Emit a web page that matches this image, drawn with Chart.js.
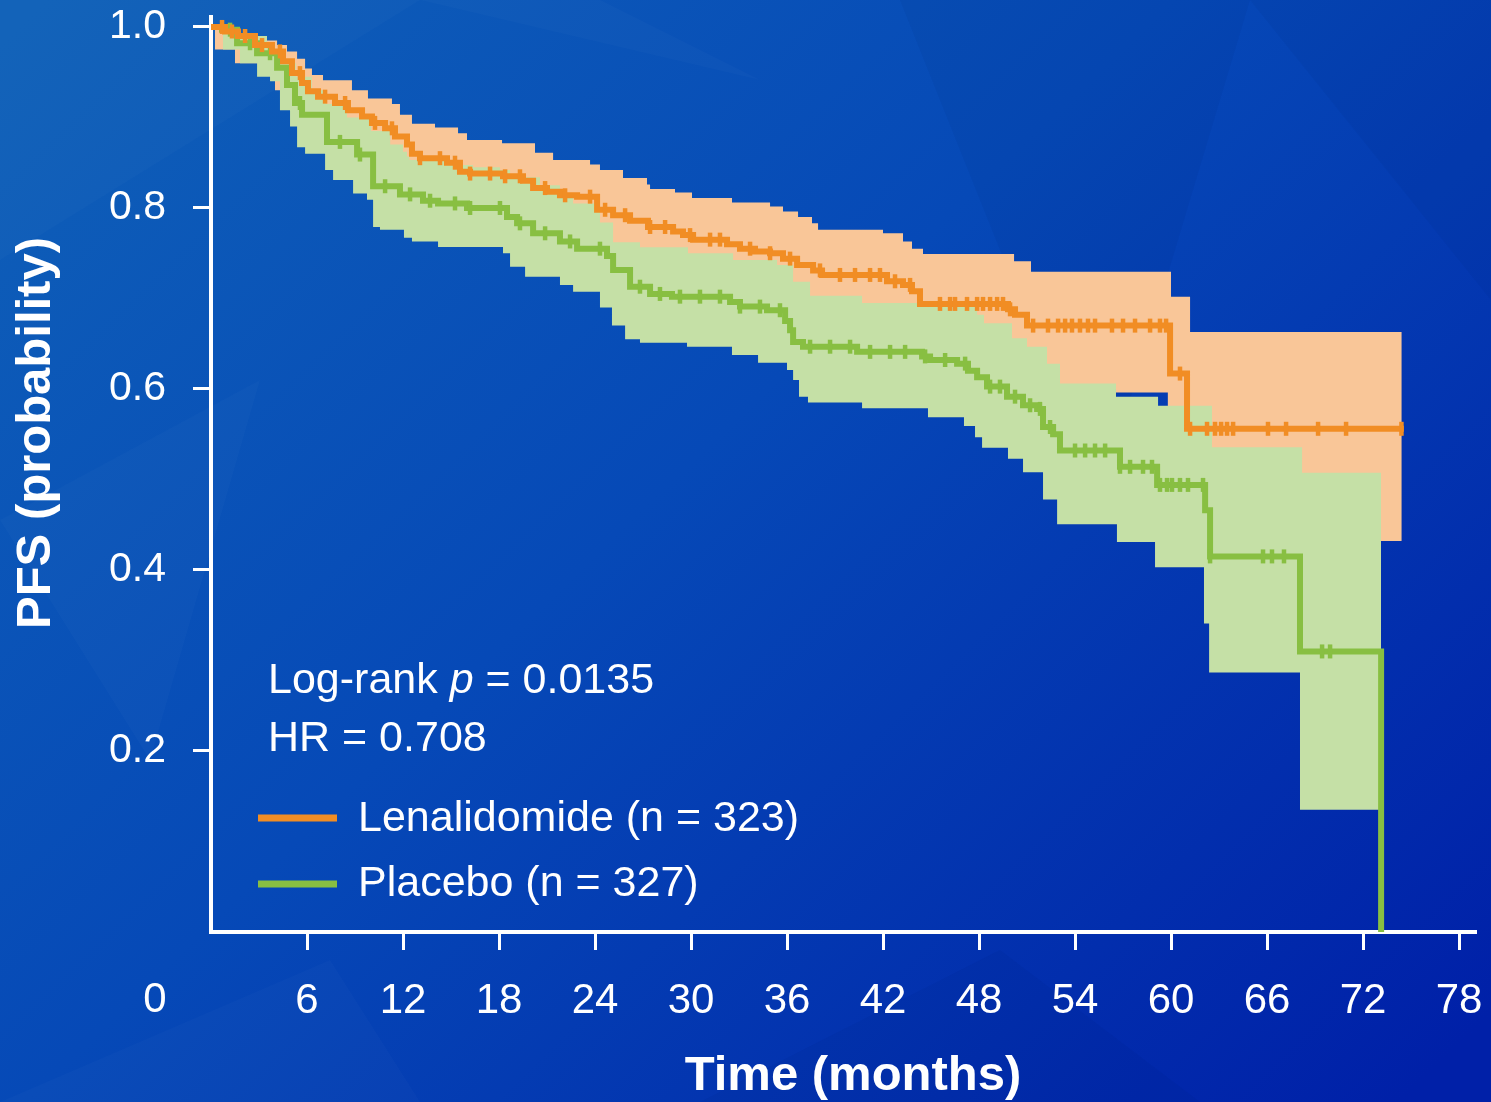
<!DOCTYPE html>
<html>
<head>
<meta charset="utf-8">
<script src="https://cdn.jsdelivr.net/npm/chart.js@4.4.0/dist/chart.umd.min.js"></script>
<style>
html,body{margin:0;padding:0;background:#0a48b4;overflow:hidden}
canvas{display:block}
</style>
</head>
<body>
<canvas id="c" width="1491" height="1102"></canvas>
<script>
// ---------- DATA (time in months, survival probability) ----------
const xTickValues = [0, 6, 12, 18, 24, 30, 36, 42, 48, 54, 60, 66, 72, 78];
const yTickValues = [0.2, 0.4, 0.6, 0.8, 1.0];

const seriesNames = ['Lenalidomide (n = 323)', 'Placebo (n = 327)'];
const statText = ['Log-rank ', 'p', ' = 0.0135'];
const hrText = 'HR = 0.708';

// Lenalidomide KM estimate
const lenaT = [0, 0.88, 1.69, 2.75, 3.81, 4.5, 5.06, 5.69, 6.06, 6.69, 7.75, 8.56, 9.44, 10.06, 10.88, 11.5, 12.25, 12.56, 13.06, 14.75, 15.56, 16.19, 18.25, 19.5, 20.13, 21.0, 21.81, 22.88, 24.13, 25.13, 26.19, 27.31, 28.88, 29.5, 30.13, 32.25, 33.06, 34.0, 34.94, 35.75, 36.63, 37.63, 38.19, 42.25, 43.25, 43.81, 44.31, 49.81, 50.25, 51.0, 59.94, 61.0, 74.55];
const lenaS = [1.0, 0.995, 0.99, 0.98, 0.973, 0.962, 0.949, 0.938, 0.929, 0.923, 0.916, 0.908, 0.901, 0.894, 0.888, 0.879, 0.87, 0.86, 0.855, 0.85, 0.84, 0.838, 0.835, 0.83, 0.822, 0.818, 0.814, 0.8125, 0.798, 0.792, 0.786, 0.779, 0.774, 0.77, 0.765, 0.76, 0.755, 0.752, 0.75, 0.744, 0.737, 0.731, 0.726, 0.719, 0.715, 0.708, 0.694, 0.688, 0.682, 0.67, 0.617, 0.556, 0.556];
// Lenalidomide 95% CI
const lenaUpT = [0, 1.69, 3.38, 4.13, 4.75, 5.38, 5.88, 6.31, 7.0, 8.81, 9.81, 11.31, 11.81, 12.56, 14.0, 15.44, 16.0, 18.19, 20.25, 21.38, 23.69, 24.31, 25.75, 27.25, 27.44, 29.0, 30.06, 32.56, 34.94, 35.75, 36.69, 37.56, 37.94, 42.0, 43.25, 43.81, 44.5, 50.19, 51.25, 60.0, 61.19, 74.42];
const lenaUpS = [1.0, 0.989, 0.985, 0.98, 0.973, 0.965, 0.954, 0.947, 0.941, 0.93, 0.921, 0.915, 0.903, 0.893, 0.889, 0.8825, 0.875, 0.8714, 0.861, 0.853, 0.848, 0.842, 0.833, 0.826, 0.821, 0.817, 0.811, 0.806, 0.8015, 0.796, 0.79, 0.783, 0.776, 0.772, 0.763, 0.755, 0.749, 0.741, 0.7296, 0.702, 0.663, 0.663];
const lenaLoT = [0, 0.25, 1.5, 4.0, 6.0, 9.0, 12.0, 16.0, 20.0, 24.0, 27.0, 30.0, 35.0, 37.0, 42.0, 44.0, 48.0, 52.0, 56.56, 59.8, 74.42];
const lenaLoS = [1.0, 0.975, 0.96, 0.93, 0.89, 0.86, 0.83, 0.8, 0.78, 0.75, 0.73, 0.72, 0.7, 0.68, 0.66, 0.64, 0.63, 0.6, 0.596, 0.432, 0.432];

// Placebo KM estimate
const placT = [0, 0.69, 1.63, 2.88, 4.13, 4.75, 5.25, 5.69, 7.25, 9.13, 10.13, 11.81, 13.25, 14.19, 16.0, 18.5, 19.13, 20.13, 21.81, 22.88, 24.75, 25.13, 26.19, 27.44, 28.81, 32.44, 33.06, 34.75, 35.88, 36.19, 36.38, 37.0, 40.38, 44.44, 44.94, 46.63, 47.31, 47.88, 48.5, 49.75, 50.75, 51.63, 52.0, 52.63, 53.06, 56.81, 59.13, 62.13, 62.44, 68.06, 73.13];
const placS = [1.0, 0.997, 0.982, 0.971, 0.955, 0.936, 0.916, 0.903, 0.873, 0.859, 0.824, 0.815, 0.808, 0.805, 0.8, 0.79, 0.783, 0.772, 0.763, 0.755, 0.747, 0.7315, 0.713, 0.705, 0.702, 0.696, 0.691, 0.687, 0.675, 0.665, 0.652, 0.6467, 0.641, 0.636, 0.632, 0.628, 0.62, 0.613, 0.6026, 0.5915, 0.582, 0.578, 0.558, 0.55, 0.532, 0.514, 0.494, 0.466, 0.415, 0.31, 0.0];
// Placebo 95% CI
const placUpT = [0, 1.5, 3.5, 4.5, 5.3, 6.3, 7.2, 8.5, 10.0, 11.2, 12.0, 12.25, 12.4, 14.94, 16.38, 18.06, 18.69, 20.56, 21.81, 22.63, 24.31, 25.13, 26.81, 29.81, 32.63, 35.38, 36.38, 37.44, 40.69, 47.88, 48.31, 50.06, 51.0, 52.25, 53.06, 56.56, 59.19, 62.56, 68.19, 73.13];
const placUpS = [1.0, 0.99, 0.975, 0.96, 0.945, 0.93, 0.915, 0.9, 0.885, 0.87, 0.862, 0.857, 0.853, 0.8475, 0.845, 0.842, 0.834, 0.825, 0.8125, 0.805, 0.784, 0.762, 0.7565, 0.75, 0.7425, 0.737, 0.7186, 0.703, 0.695, 0.682, 0.6726, 0.656, 0.6467, 0.628, 0.606, 0.5915, 0.5816, 0.5356, 0.5075, 0.5075];
const placLoT = [0, 0.75, 1.81, 2.88, 3.69, 4.31, 4.94, 5.38, 5.88, 7.13, 7.63, 8.88, 9.75, 10.13, 10.56, 12.06, 12.56, 14.19, 18.25, 18.69, 19.63, 21.81, 22.63, 24.31, 25.06, 25.88, 26.81, 29.75, 32.56, 34.19, 36.0, 36.38, 36.75, 37.31, 40.69, 44.81, 47.06, 47.75, 48.19, 49.81, 50.75, 52.0, 52.88, 56.62, 59.0, 62.06, 62.38, 68.06, 73.13];
const placLoS = [1.0, 0.975, 0.96, 0.945, 0.94, 0.908, 0.89, 0.867, 0.86, 0.842, 0.831, 0.816, 0.809, 0.779, 0.776, 0.767, 0.763, 0.757, 0.75, 0.735, 0.724, 0.715, 0.7075, 0.69, 0.67, 0.655, 0.651, 0.6467, 0.6376, 0.629, 0.621, 0.61, 0.5915, 0.585, 0.5786, 0.5687, 0.559, 0.5466, 0.535, 0.523, 0.508, 0.478, 0.4505, 0.431, 0.403, 0.341, 0.2867, 0.135, 0.135];

// Censoring times
const lenaCensor = [0.69, 1.31, 2.13, 3.19, 4.31, 5.56, 7.13, 8.38, 10.25, 11.31, 13.06, 14.31, 15.25, 16.19, 17.44, 18.38, 19.31, 20.88, 22.13, 23.69, 24.63, 25.88, 27.44, 28.38, 29.94, 31.19, 31.81, 33.69, 34.94, 36.19, 38.06, 39.31, 40.25, 41.19, 41.81, 42.75, 43.69, 45.56, 46.19, 46.5, 47.25, 47.88, 48.25, 48.69, 49.13, 49.5, 49.94, 51.38, 52.31, 52.94, 53.38, 53.81, 54.31, 54.81, 55.25, 56.31, 57.0, 57.75, 58.69, 59.31, 59.69, 60.56, 61.19, 62.25, 62.75, 63.13, 63.5, 63.88, 66.06, 67.19, 69.19, 70.94, 74.4];
const placCensor = [1.19, 2.44, 3.69, 5.56, 8.06, 9.31, 10.88, 12.44, 13.69, 15.25, 16.19, 18.06, 19.31, 20.88, 22.44, 24.31, 26.81, 28.06, 29.31, 30.56, 31.81, 33.06, 34.31, 35.56, 37.44, 38.69, 39.94, 41.19, 42.44, 43.38, 44.63, 45.88, 47.13, 48.69, 49.31, 50.25, 51.19, 51.81, 52.44, 54.0, 54.63, 55.25, 55.88, 56.81, 57.44, 58.25, 58.81, 59.31, 59.75, 60.06, 60.56, 61.06, 62.0, 62.44, 65.75, 66.31, 67.06, 69.44, 69.94];

// ---------- STYLE ----------
const ORANGE = '#F18D24';
const PEACH = '#F9C698';
const GREEN = '#88BF42';
const LIGHTGREEN = '#C5E0A6';
const FONT = '"Liberation Sans", Arial, Helvetica, sans-serif';

// ---------- helpers (build tables for the library) ----------
function stepAt(ts, ss, t) {
  let v = ss[0];
  for (let i = 0; i < ts.length; i++) { if (ts[i] <= t + 1e-9) v = ss[i]; else break; }
  return v;
}
function toPts(ts, ss) { return ts.map((t, i) => ({ x: t, y: ss[i] })); }
function band(tA, sA, tB, sB) {
  const end = Math.min(tA[tA.length - 1], tB[tB.length - 1]);
  const all = Array.from(new Set([...tA, ...tB])).filter(t => t <= end + 1e-9).sort((a, b) => a - b);
  return {
    up: all.map(t => ({ x: t, y: stepAt(tA, sA, t) })),
    lo: all.map(t => ({ x: t, y: stepAt(tB, sB, t) }))
  };
}
const lenaBand = band(lenaUpT, lenaUpS, lenaLoT, lenaLoS);
const placBand = band(placUpT, placUpS, placLoT, placLoS);

const bgPlugin = {
  id: 'bg',
  beforeDraw(chart) {
    const c = chart.ctx, W = chart.width, H = chart.height;
    c.save();
    const g = c.createLinearGradient(150, -100, 1350, 1150);
    g.addColorStop(0, '#0f60b8');
    g.addColorStop(0.45, '#0649b7');
    g.addColorStop(1, '#0020a8');
    c.fillStyle = g;
    c.fillRect(0, 0, W, H);
    c.fillStyle = 'rgba(255,255,255,0.018)';
    const polys = [
      [[0,0],[420,0],[0,260]],
      [[420,0],[760,80],[600,0]],
      [[0,520],[260,380],[150,760]],
      [[0,1102],[330,960],[420,1102]]
    ];
    polys.forEach(p => { c.beginPath(); c.moveTo(p[0][0], p[0][1]); for (let i = 1; i < p.length; i++) c.lineTo(p[i][0], p[i][1]); c.closePath(); c.fill(); });
    c.fillStyle = 'rgba(0,10,80,0.05)';
    [[[900,0],[1250,0],[1100,500]], [[700,1102],[1000,950],[1200,1102]], [[1250,0],[1491,0],[1491,300]]].forEach(p => { c.beginPath(); c.moveTo(p[0][0], p[0][1]); for (let i = 1; i < p.length; i++) c.lineTo(p[i][0], p[i][1]); c.closePath(); c.fill(); });
    c.restore();
  }
};

const textPlugin = {
  id: 'texts',
  afterDraw(chart) {
    const c = chart.ctx;
    const xs = chart.scales.x;
    c.save();
    c.fillStyle = '#ffffff';
    // origin label
    c.font = '42px ' + FONT;
    c.textAlign = 'center';
    c.textBaseline = 'middle';
    c.fillText('0', xs.getPixelForValue(0) - 56, 1000);
    // axis titles
    c.font = 'bold 49px ' + FONT;
    c.textBaseline = 'alphabetic';
    c.fillText('Time (months)', 853, 1090);
    c.save();
    c.translate(50, 433);
    c.rotate(-Math.PI / 2);
    c.fillText('PFS (probability)', 0, 0);
    c.restore();
    // stats
    c.textAlign = 'left';
    let x = 268;
    c.font = '43px ' + FONT;
    c.fillText(statText[0], x, 693); x += c.measureText(statText[0]).width;
    c.font = 'italic 43px ' + FONT;
    c.fillText(statText[1], x, 693); x += c.measureText(statText[1]).width;
    c.font = '43px ' + FONT;
    c.fillText(statText[2], x, 693);
    c.fillText(hrText, 268, 751);
    // legend
    const items = [[ORANGE, seriesNames[0], 818, 831], [GREEN, seriesNames[1], 884, 896]];
    items.forEach(([col, label, ly, by]) => {
      c.strokeStyle = col; c.lineWidth = 7; c.lineCap = 'butt';
      c.beginPath(); c.moveTo(258, ly); c.lineTo(337, ly); c.stroke();
      c.fillStyle = '#ffffff';
      c.fillText(label, 358, by);
    });
    c.restore();
  }
};

const censorDs = (times, ts, ss, col, order) => ({
  data: times.map(t => ({ x: t, y: stepAt(ts, ss, t) })),
  showLine: false, pointStyle: 'line', rotation: 90, pointRadius: 7, pointHoverRadius: 7,
  pointBorderWidth: 4.5, pointBorderColor: col, pointBackgroundColor: col, borderColor: col, order: order, fill: false
});
const bandDs = (pts, fillCol, fillTarget, order) => ({
  data: pts, stepped: 'before', borderColor: 'rgba(0,0,0,0)', borderWidth: 0, pointRadius: 0, pointHoverRadius: 0,
  backgroundColor: fillCol, fill: fillTarget, order: order
});

new Chart(document.getElementById('c'), {
  type: 'line',
  data: {
    datasets: [
      censorDs(lenaCensor, lenaT, lenaS, ORANGE, 0),
      { data: toPts(lenaT, lenaS), stepped: 'before', borderColor: ORANGE, borderWidth: 6, pointRadius: 0, fill: false, order: 1, borderCapStyle: 'butt' },
      censorDs(placCensor, placT, placS, GREEN, 2),
      { data: toPts(placT, placS), stepped: 'before', borderColor: GREEN, borderWidth: 6, pointRadius: 0, fill: false, order: 3, borderCapStyle: 'butt' },
      bandDs(placBand.up, LIGHTGREEN, '+1', 4),
      bandDs(placBand.lo, 'rgba(0,0,0,0)', false, 5),
      bandDs(lenaBand.up, PEACH, '+1', 6),
      bandDs(lenaBand.lo, 'rgba(0,0,0,0)', false, 7)
    ]
  },
  options: {
    responsive: false,
    animation: false,
    devicePixelRatio: 1,
    layout: { padding: { top: 17, right: 15, left: 0, bottom: 0 } },
    plugins: { legend: { display: false }, tooltip: { enabled: false } },
    elements: { line: { tension: 0 } },
    scales: {
      x: {
        type: 'linear', min: 0, max: 79.06,
        afterBuildTicks: s => { s.ticks = xTickValues.map(v => ({ value: v })); },
        ticks: {
          color: '#ffffff', font: { family: FONT, size: 42 }, padding: 26, maxRotation: 0, autoSkip: false,
          callback: v => (v === 0 ? '' : String(v))
        },
        grid: {
          drawOnChartArea: false, drawTicks: true, tickLength: 18, tickWidth: 3,
          tickColor: ctx => (ctx.tick && ctx.tick.value === 0 ? 'rgba(0,0,0,0)' : '#ffffff')
        },
        border: { display: true, color: '#ffffff', width: 4 },
        afterFit: s => { s.height = 1102 - 932; s.paddingLeft = 0; s.paddingRight = 0; }
      },
      y: {
        type: 'linear', min: 0, max: 1.011,
        afterBuildTicks: s => { s.ticks = [0].concat(yTickValues).map(v => ({ value: v })); },
        ticks: {
          color: '#ffffff', font: { family: FONT, size: 41 }, padding: 27,
          callback: v => (Math.abs(v) < 1e-9 ? '' : v.toFixed(1))
        },
        grid: {
          drawOnChartArea: false, drawTicks: true, tickLength: 18, tickWidth: 3,
          tickColor: ctx => (ctx.tick && Math.abs(ctx.tick.value) < 1e-9 ? 'rgba(0,0,0,0)' : '#ffffff')
        },
        border: { display: true, color: '#ffffff', width: 4 },
        afterFit: s => { s.width = 211; s.paddingTop = 0; s.paddingBottom = 0; }
      }
    }
  },
  plugins: [bgPlugin, textPlugin]
});
</script>
</body>
</html>
